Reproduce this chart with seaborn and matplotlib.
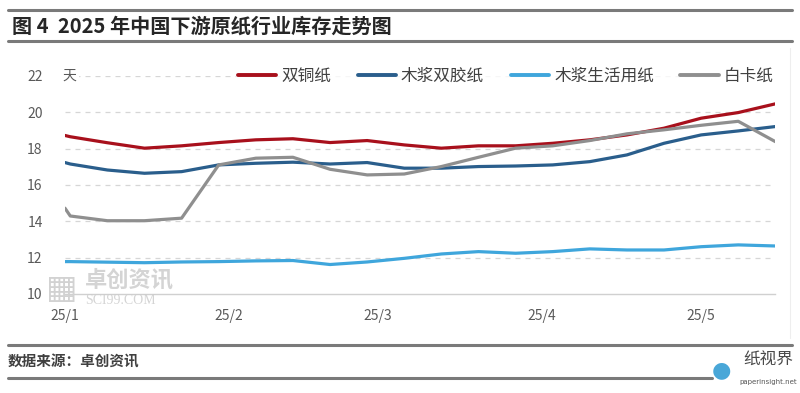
import matplotlib
matplotlib.use("Agg")
import matplotlib.pyplot as plt
import seaborn as sns
import pandas as pd
import numpy as np
from matplotlib.lines import Line2D

# ---------------- data ----------------
dates = ["2025-01-01"] + list(pd.date_range("2025-01-02", "2025-05-15", freq="7D").strftime("%Y-%m-%d"))
series_names = ["双铜纸", "木浆双胶纸", "木浆生活用纸", "白卡纸"]
shuangtong = [18.72, 18.65, 18.32, 18.02, 18.15, 18.33, 18.48, 18.54, 18.33, 18.44, 18.20,
              18.02, 18.15, 18.15, 18.29, 18.48, 18.75, 19.12, 19.67, 19.98, 20.46]
shuangjiao = [17.23, 17.15, 16.82, 16.64, 16.73, 17.10, 17.19, 17.25, 17.15, 17.23, 16.92,
              16.92, 17.01, 17.04, 17.10, 17.28, 17.65, 18.29, 18.75, 18.97, 19.21]
shenghuo = [11.78, 11.78, 11.75, 11.72, 11.76, 11.78, 11.82, 11.84, 11.62, 11.76, 11.96,
            12.20, 12.33, 12.24, 12.33, 12.48, 12.42, 12.42, 12.60, 12.70, 12.64]
baika = [14.72, 14.29, 14.03, 14.03, 14.17, 17.10, 17.47, 17.52, 16.86, 16.55, 16.60,
         17.01, 17.52, 18.02, 18.15, 18.44, 18.81, 19.03, 19.28, 19.50, 18.38]
tick_dates = ["2025-01-01", "2025-02-01", "2025-03-01", "2025-04-01", "2025-05-01"]
tick_labels = ["25/1", "25/2", "25/3", "25/4", "25/5"]
y_ticks = [10, 12, 14, 16, 18, 20, 22]

colors = ["#A8101C", "#2A5E8C", "#3FA6DC", "#8F8F8F"]

df = pd.DataFrame({
    "date": pd.to_datetime(dates * 4),
    "value": shuangtong + shuangjiao + shenghuo + baika,
    "series": sum([[n] * len(dates) for n in series_names], []),
})

# ---------------- plot ----------------
sns.set_theme(style="white")
plt.rcParams["font.family"] = ["Noto Sans CJK SC", "DejaVu Sans"]

fig = plt.figure(figsize=(8.0, 3.93), dpi=100)
ax = fig.add_axes([0.0812, 0.252, 0.888, 0.555])

sns.lineplot(data=df, x="date", y="value", hue="series", hue_order=series_names,
             palette=colors, linewidth=2.3, ax=ax, legend=False, zorder=3)

ax.set_ylim(10, 22)
ax.set_xlim(pd.Timestamp("2025-01-01"), pd.Timestamp("2025-05-15"))
ax.set_yticks(y_ticks)
ax.set_yticklabels([str(v) for v in y_ticks], fontsize=10, color="#595959")
ax.set_xticks(pd.to_datetime(tick_dates))
ax.set_xticklabels(tick_labels, fontsize=10, color="#595959")
ax.tick_params(axis="x", length=4, color="#D0D0D0", pad=7, direction="out")
ax.tick_params(axis="y", length=0, pad=16)
ax.set_xlabel("")
ax.set_ylabel("")

for v in y_ticks[1:]:
    ax.axhline(v, color="#D6D6D6", lw=0.9, ls=(0, (4, 4)), zorder=0)

for s in ["top", "right", "left"]:
    ax.spines[s].set_visible(False)
ax.spines["bottom"].set_color("#D0D0D0")
ax.spines["bottom"].set_linewidth(1.0)

# unit label
ax.text(-0.003, 22, "天", transform=ax.get_yaxis_transform(), fontsize=10,
        color="#595959", ha="left", va="center",
        bbox=dict(facecolor="white", edgecolor="none", pad=1.5))

# legend
handles = [Line2D([0], [0], color=c, lw=2.8) for c in colors]
leg = ax.legend(handles, series_names, ncol=4, loc="center right",
                bbox_to_anchor=(1.0, 1.0), frameon=True, fontsize=12,
                handlelength=2.3, handletextpad=0.3, columnspacing=1.6,
                borderpad=0.1, borderaxespad=0)
leg.get_frame().set_facecolor("white")
leg.get_frame().set_edgecolor("none")
for t in leg.get_texts():
    t.set_color("#404040")

# watermark
fig.text(0.106, 1 - 280 / 393, "卓创资讯", fontsize=16, color="#CDCDCD", alpha=0.85,
         ha="left", va="center", fontweight="bold", zorder=1)
fig.text(0.106, 1 - 300 / 393, "SCI99.COM", fontsize=10, color="#CDCDCD", alpha=0.85,
         ha="left", va="center", family=["Liberation Serif"], zorder=1)
fig.text(0.058, 1 - 289 / 393, "▦", fontsize=24, color="#D2D2D2", ha="left", va="center",
         family=["DejaVu Sans"], zorder=1)

# header / footer bands
for x0, x1, ypx in [(0.01, 0.99, 10), (0.01, 0.99, 41), (0.01, 0.99, 345), (0.01, 0.89, 378)]:
    fig.add_artist(Line2D([x0, x1], [1 - ypx / 393] * 2, color="#7A7A7A", lw=2.2,
                          transform=fig.transFigure))
fig.add_artist(Line2D([0.988, 0.988], [1 - 48 / 393, 1 - 338 / 393], color="#EEEEEE", lw=0.8,
                      transform=fig.transFigure))

fig.text(0.015, 1 - 26 / 393, "图 4  2025 年中国下游原纸行业库存走势图", fontsize=14.5,
         fontweight="bold", color="#262626", ha="left", va="center")
fig.text(0.009, 1 - 362 / 393, "数据来源：卓创资讯", fontsize=10.5, fontweight="bold",
         color="#404040", ha="left", va="center")

# logo
fig.text(0.960, 1 - 360 / 393, "纸视界", fontsize=12, color="#4A4A4A", ha="center", va="center")
fig.text(0.960, 1 - 382 / 393, "paperinsight.net", fontsize=5, color="#555555", ha="center",
         va="center", family=["DejaVu Sans"])
fig.text(0.902, 1 - 370 / 393, "●", fontsize=16, color="#49A7D8", ha="center", va="center",
         family=["DejaVu Sans"])

fig.savefig("out.png", dpi=100)
